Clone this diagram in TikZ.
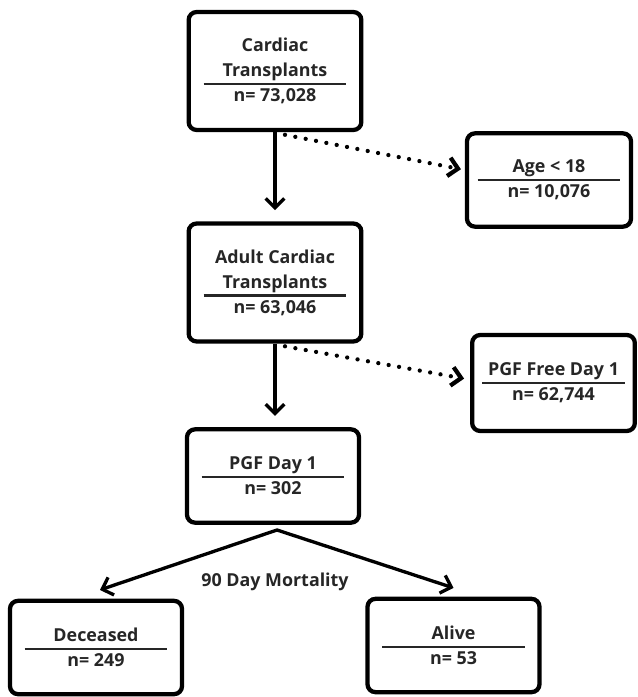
\documentclass[tikz,border=0pt]{standalone}
\usepackage{fontspec}
\newfontfamily\chartfont{Open Sans}
\usetikzlibrary{arrows.meta,positioning}
\newcommand{\countline}[1]{\makebox[0pt][l]{\smash{\raisebox{12.4pt}{\rule{107pt}{1.8pt}}}}\makebox[107pt]{#1}}

\begin{document}
\begin{tikzpicture}[x=0.75pt,y=-0.75pt,line width=2.5pt,line join=miter,
chart text/.style={font=\chartfont\bfseries\fontsize{13.4pt}{18.75pt}\selectfont,text=black!85},
box node/.style={chart text,draw,line width=3.2pt,rounded corners=6pt,align=center,inner sep=0pt},
big node/.style={box node,minimum width=129.5pt,minimum height=88.5pt},
small node/.style={box node,minimum width=129pt,minimum height=70pt},
main arrow/.style={-{Straight Barb[length=7pt,width=14pt]}},
twin arrow/.style={{Straight Barb[length=7pt,width=14pt]}-{Straight Barb[length=7pt,width=14pt]}},
dot arrow/.style={main arrow,line width=3.2pt,line cap=round,dash pattern=on 0pt off 7.9pt}]%
\useasboundingbox (0,0) rectangle (637,697);
\begin{scope}
\node[big node] (ct) at (275,71) {Cardiac\\Transplants\\\countline{n= 73,028}};
\node[small node,minimum width=123pt] (age) at (549,180) {Age < 18\\\countline{n= 10,076}};
\node[big node] (act) at (275,282.5) {Adult Cardiac\\Transplants\\\countline{n= 63,046}};
\node[small node,minimum width=122pt,minimum height=72pt] (free) at (553.5,383) {PGF Free Day 1\\\countline{n= 62,744}};
\node[small node] (pgf) at (273,476) {PGF Day 1\\\countline{n= 302}};
\node[small node] (dead) at (96,647.5) {Deceased\\\countline{n= 249}};
\node[small node] (alive) at (453.5,645.5) {Alive\\\countline{n= 53}};
\node[chart text] (mort) at (275,582) {90 Day Mortality};
\coordinate (split) at (277,530);
\end{scope}
\begin{scope}
\draw[main arrow,shorten >=8.5pt] (ct.south) -- (act.north);
\draw[main arrow,shorten >=8.5pt] (act.south) -- (act.south |- pgf.north);
\draw[dot arrow,shorten >=3pt] ([xshift=7.5pt,yshift=-2pt]ct.south) -- ([yshift=7.5pt]age.west);
\draw[dot arrow,shorten >=4.5pt] ([xshift=7.5pt,yshift=-2pt]act.south) -- ([yshift=2.5pt]free.west);
\draw[twin arrow] ([xshift=3pt,yshift=6.6pt]dead.north) -- (split) -- ([yshift=6.6pt]alive.north);
%\draw (pgf) -- (mort);
\end{scope}
\end{tikzpicture}
\end{document}
